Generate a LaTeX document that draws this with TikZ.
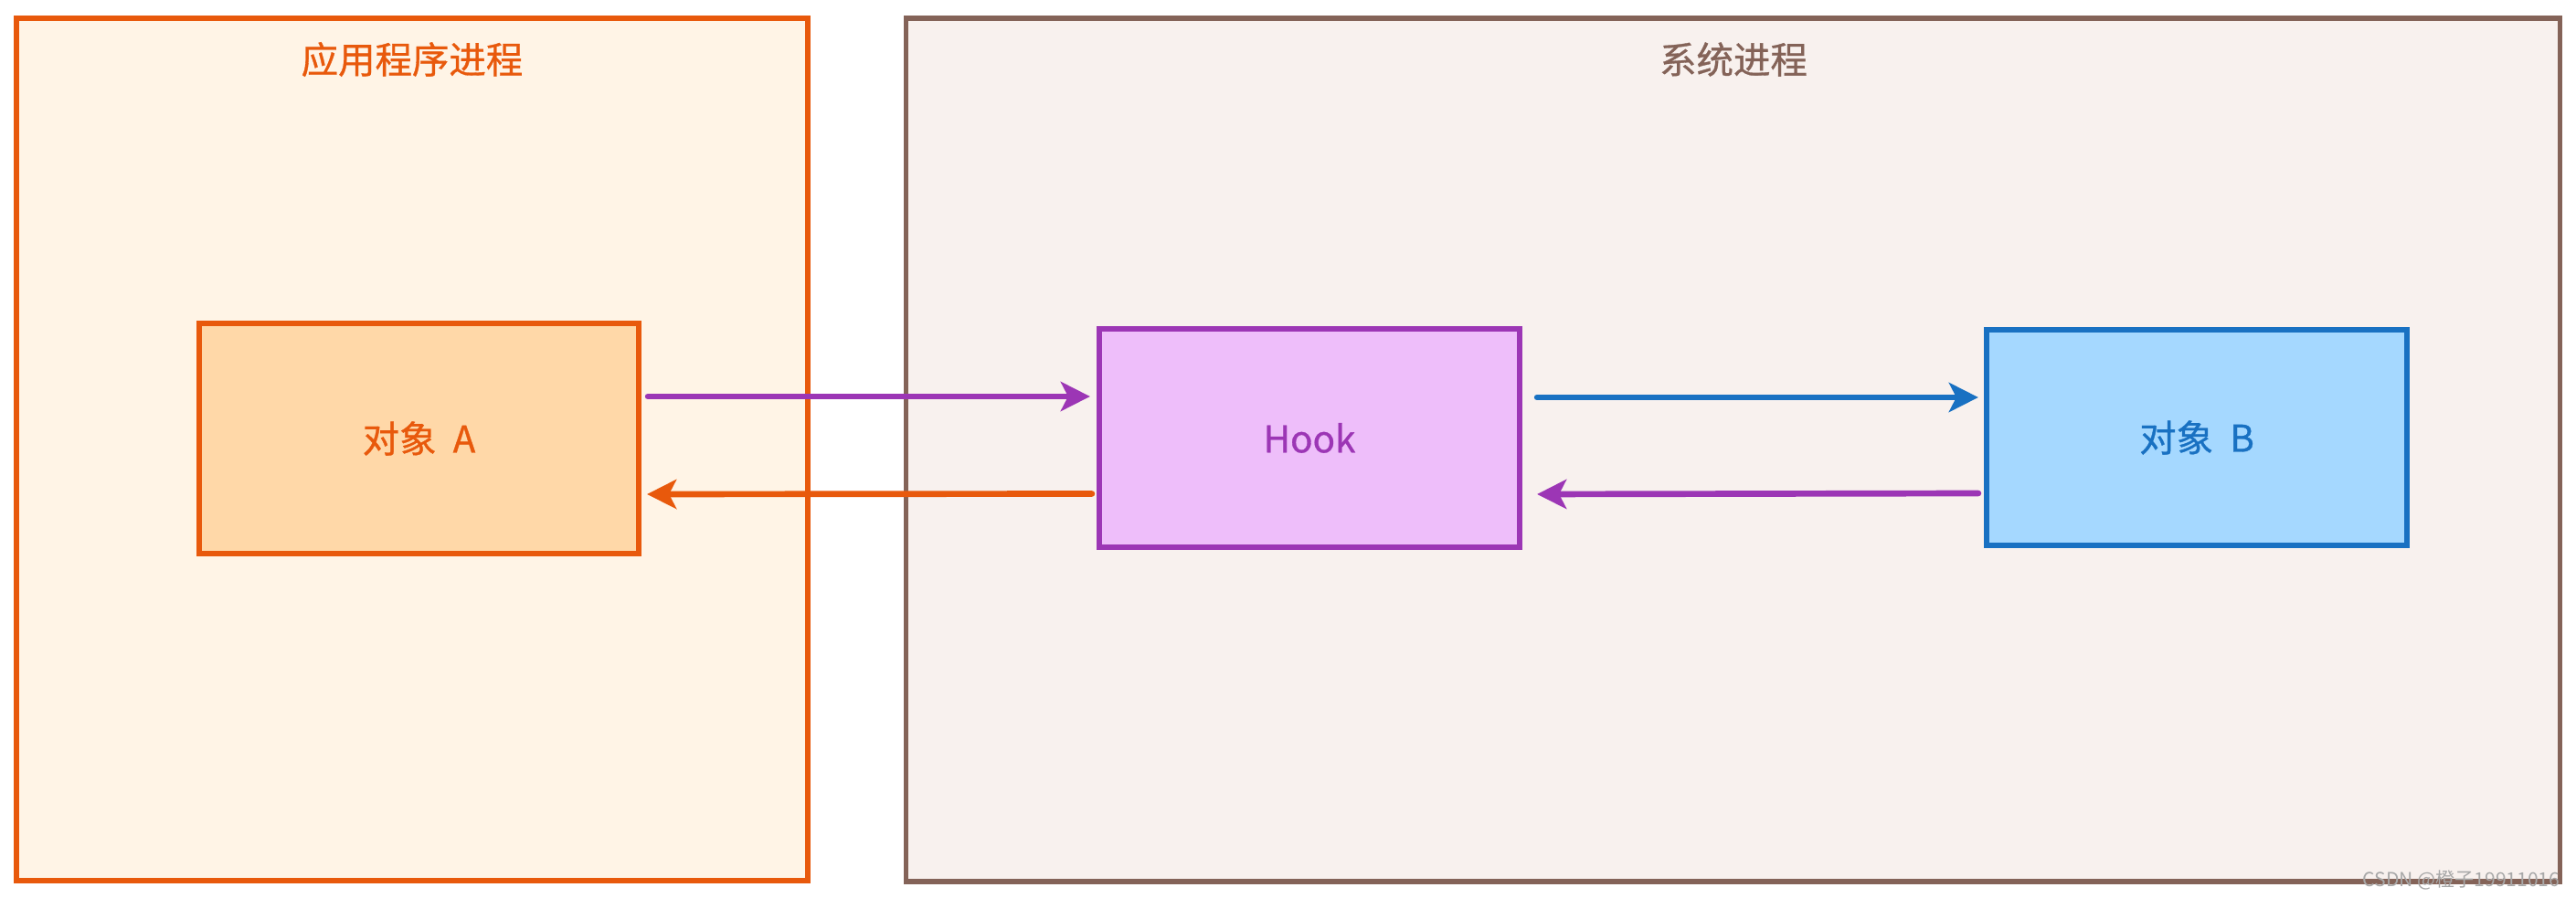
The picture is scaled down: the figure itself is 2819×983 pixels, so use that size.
\documentclass[tikz,border=0pt]{standalone}
\usepackage{fontspec}
\setmainfont{Noto Sans CJK SC}
\newfontfamily\lblfont[FakeBold=0.8]{Noto Sans CJK SC}
\usetikzlibrary{arrows.meta,calc}
\definecolor{orgstroke}{HTML}{E8590C}
\definecolor{orgbg}{HTML}{FFF4E6}
\definecolor{orgfill}{HTML}{FFD8A8}
\definecolor{brnstroke}{HTML}{846358}
\definecolor{brnbg}{HTML}{F8F1EE}
\definecolor{purstroke}{HTML}{9C36B5}
\definecolor{purfill}{HTML}{EEBEFA}
\definecolor{blustroke}{HTML}{1971C2}
\definecolor{blufill}{HTML}{A5D8FF}
\definecolor{wmgray}{HTML}{A8A8A8}
\tikzset{
  procbox/.style={draw, rectangle, line width=1.6pt, inner sep=0pt},
  objbox/.style={draw, rectangle, line width=1.7pt, inner sep=0pt,
     font=\lblfont\fontsize{11.5pt}{13pt}\selectfont},
  titletext/.style={font=\lblfont\fontsize{11.5pt}{13pt}\selectfont, inner sep=0pt},
  conn/.style={line width=1.9pt, line cap=round,
     -{Stealth[length=0.32cm,width=0.32cm,inset=0.08cm]}},
}
\begin{document}
\begin{tikzpicture}[x=0.01cm,y=-0.01cm]
\useasboundingbox (0,0) rectangle (2819,983);
\fill[white] (0,0) rectangle (2819,983);
% process containers
\node[procbox, draw=orgstroke, fill=orgbg, minimum width=8.66cm, minimum height=9.44cm] (app) at (451,492) {};
\node[procbox, draw=brnstroke, fill=brnbg, minimum width=18.09cm, minimum height=9.45cm] (sys) at (1896.5,492.5) {};
\node[titletext, text=orgstroke] (apptitle) at (451,65) {应用程序进程};
\node[titletext, text=brnstroke] (systitle) at (1897,65) {系统进程};
% objects
\node[objbox, draw=orgstroke, fill=orgfill, text=orgstroke, minimum width=4.81cm, minimum height=2.52cm] (A) at (458.5,480) {对象\hspace{0.45em}A};
\node[objbox, draw=purstroke, fill=purfill, text=purstroke, minimum width=4.60cm, minimum height=2.39cm] (H) at (1433,479.5) {Hook};
\node[objbox, draw=blustroke, fill=blufill, text=blustroke, minimum width=4.60cm, minimum height=2.36cm] (B) at (2404,479) {对象\hspace{0.45em}B};
% connectors
\draw[conn, purstroke] ($(A.east)+(7,-46)$) -- ($(H.west)+(-7,-45.5)$);
\draw[conn, orgstroke] ($(H.west)+(-5,61)$) -- ($(A.east)+(6,61)$);
\draw[conn, blustroke] ($(H.east)+(16,-44.5)$) -- ($(B.west)+(-6,-44)$);
\draw[conn, purstroke] ($(B.west)+(-6,61)$) -- ($(H.east)+(16,61.5)$);
% watermark
\node[anchor=east, inner sep=0pt, text=wmgray, font=\fontsize{6pt}{7pt}\selectfont] (wm) at (2802,963) {CSDN @橙子19911016};
\end{tikzpicture}
\end{document}
